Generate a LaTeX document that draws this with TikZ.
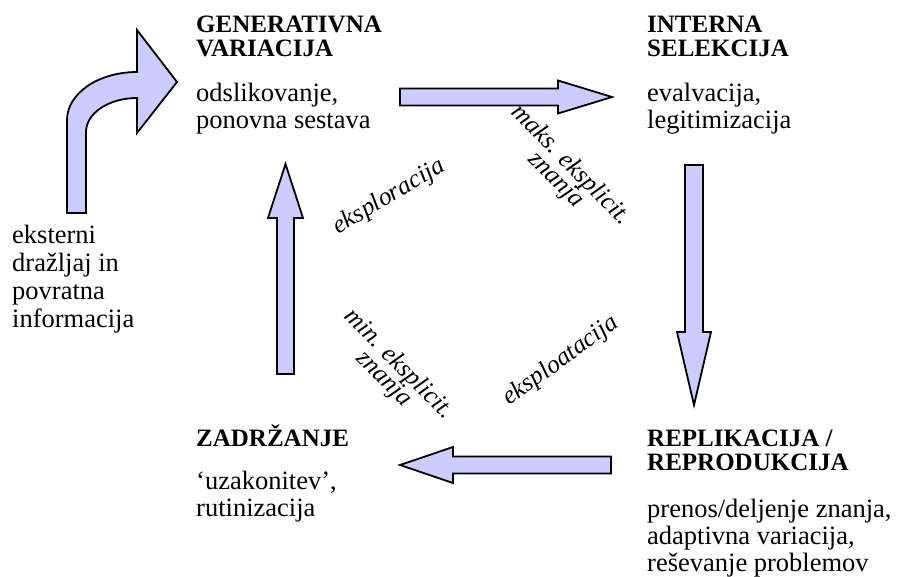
\documentclass[tikz,border=0pt]{standalone}
\usepackage{fontspec}
\setmainfont{Liberation Serif}
\newcommand\txtblock[2]{\vtop{\baselineskip=#1\relax\lineskiplimit=-50pt\halign{##\hfil\cr#2\crcr}}}
\tikzset{
  blockarrow/.style={draw=black, fill=arrowfill, line width=1.8pt, line join=miter},
  heading/.style={anchor=base west, inner sep=0pt, font=\fontsize{25}{24}\selectfont\bfseries},
  bodytext/.style={anchor=base west, inner sep=0pt, font=\fontsize{26.5}{28}\selectfont},
  slanted/.style={inner sep=0pt, align=center, font=\fontsize{25.5}{24}\selectfont\itshape}
}
\definecolor{arrowfill}{RGB}{204,204,255}
\begin{document}
\begin{tikzpicture}[x=1pt, y=-1pt]
\path[use as bounding box] (0,0) rectangle (904,576);

% stage headings
\node[heading] (genH) at (196,32) {\txtblock{24pt}{GENERATIVNA\cr VARIACIJA}};
\node[heading] (selH) at (647,32) {\txtblock{24pt}{INTERNA\cr SELEKCIJA}};
\node[heading] (zadH) at (196,446) {\txtblock{24pt}{ZADRŽANJE}};
\node[heading] (repH) at (647,446) {\txtblock{24pt}{REPLIKACIJA /\cr REPRODUKCIJA}};

% stage descriptions
\node[bodytext] (genT) at (196,101) {\txtblock{27pt}{odslikovanje,\cr ponovna sestava}};
\node[bodytext] (selT) at (647,101) {\txtblock{27pt}{evalvacija,\cr legitimizacija}};
\node[bodytext] (zadT) at (196,489) {\txtblock{27pt}{‘uzakonitev’,\cr rutinizacija}};
\node[bodytext] (repT) at (647,517) {\txtblock{27pt}{prenos/deljenje znanja,\cr adaptivna variacija,\cr reševanje problemov}};
\node[bodytext] (ext) at (12,243) {\txtblock{28pt}{eksterni\cr dražljaj in\cr povratna\cr informacija}};

% cycle arrows
\coordinate (a1) at (400,97);
\coordinate (a2) at (694,165);
\coordinate (a3) at (611,465);
\coordinate (a4) at (285.5,374);
\draw[blockarrow] (a1) ++(0,-8.5) -- (558,88.5) -- (558,80.5) -- (612,97)
  -- (558,113.5) -- (558,105.5) -- (400,105.5) -- cycle;
\draw[blockarrow] (a2) ++(-9,0) -- (685,332) -- (677,332) -- (694,405)
  -- (711,332) -- (703,332) -- (703,165) -- cycle;
\draw[blockarrow] (a3) ++(0,-8.5) -- (453,456.5) -- (453,447) -- (400,465)
  -- (453,483) -- (453,473.5) -- (611,473.5) -- cycle;
\draw[blockarrow] (a4) ++(-8.5,0) -- (277,218) -- (268,218) -- (285.5,164)
  -- (303,218) -- (294,218) -- (294,374) -- cycle;

% bent input arrow
\coordinate (b0) at (67,213);
\draw[blockarrow] (b0) -- (67,120) .. controls (67,93.5) and (98.3,72) .. (137,72)
  -- (137,30) -- (177,82) -- (137,133) -- (137,98)
  .. controls (108.8,98) and (86,113.2) .. (86,132) -- (86,213) -- cycle;

% edge labels
\node[slanted, rotate=31] (lexp) at (389,197) {eksploracija};
\node[slanted, rotate=-45] (lmax) at (563,173) {maks. eksplicit.\\[-3pt] znanja};
\node[slanted, rotate=-45] (lmin) at (391,372) {min. eksplicit.\\[-3pt] znanja};
\node[slanted, rotate=36] (lepl) at (561,361) {eksploatacija};
\end{tikzpicture}
\end{document}
